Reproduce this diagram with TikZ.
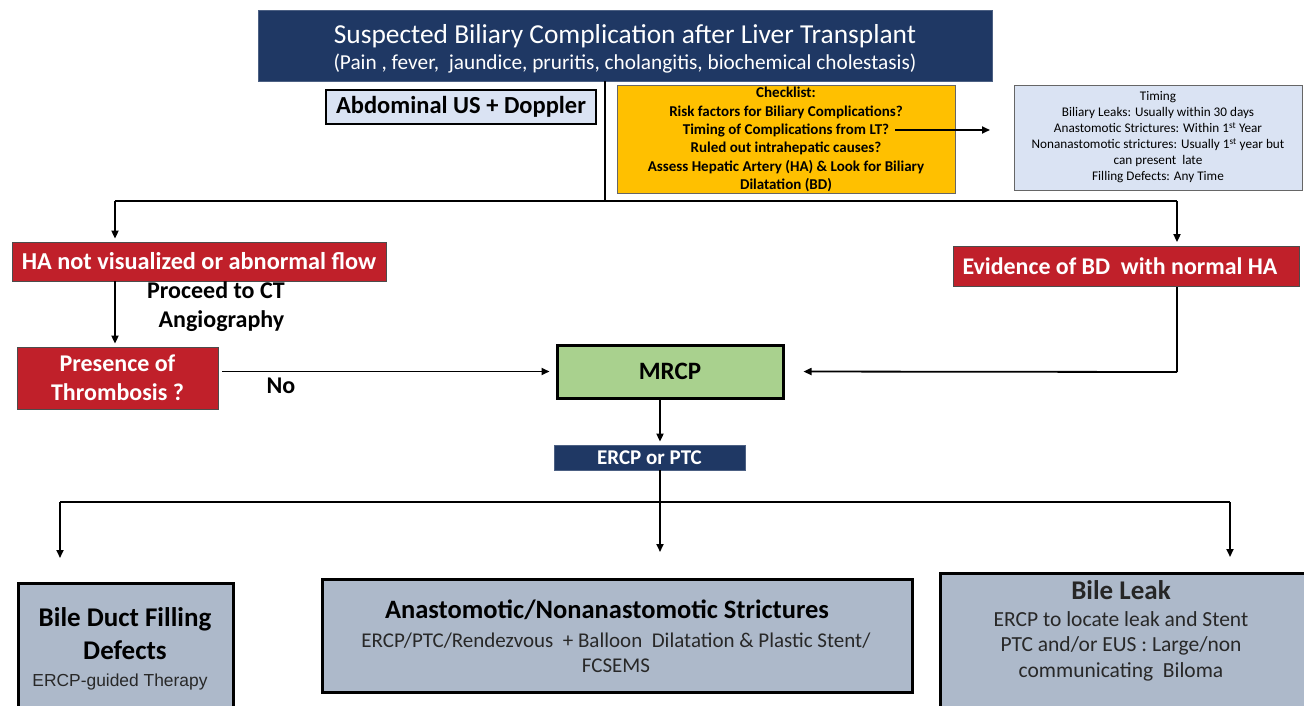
\documentclass[tikz,border=0pt]{standalone}
\usepackage{fontspec}
\setmainfont{Carlito}
\newfontfamily\arialf{Liberation Sans}
\usetikzlibrary{arrows.meta,calc}
\definecolor{navy}{RGB}{31,56,100}
\definecolor{bred}{RGB}{192,32,42}
\definecolor{chkyel}{RGB}{255,192,0}
\definecolor{lblue}{RGB}{218,227,243}
\definecolor{mgreen}{RGB}{169,209,142}
\definecolor{gblue}{RGB}{173,185,202}
\definecolor{bodytxt}{RGB}{40,40,40}
\tikzset{
  fs/.style n args={2}{font=\fontsize{#1}{#2}\selectfont},
  bfs/.style n args={2}{font=\bfseries\fontsize{#1}{#2}\selectfont},
  boxbase/.style={inner sep=0pt, align=center, anchor=center},
  navybox/.style={boxbase, fill=navy, draw=navy!80!white, line width=0.8pt, text=white},
  redbox/.style={boxbase, fill=bred, draw=black!70, line width=0.8pt, text=white},
  thickbox/.style={boxbase, draw=black, line width=2.6pt},
  conn/.style={draw=black, line width=1.8pt},
  arr/.style={conn, -{Triangle[length=8pt,width=7pt]}},
}
\begin{document}
\begin{tikzpicture}[x=1pt,y=-1pt]
\useasboundingbox[fill=white] (0,0) rectangle (1304,706);

% top title
\node[navybox, minimum width=734, minimum height=71] (title) at (625,45.5) {};
\node[boxbase, anchor=base, text=white, fs={27.4}{26}] (titletxt) at (625,70)
  {Suspected Biliary Complication after Liver Transplant\\
   {\fontsize{21.3}{26}\selectfont (Pain , fever,\ \ jaundice, pruritis, cholangitis, biochemical cholestasis)}};

% abdominal US
\node[boxbase, fill=lblue, draw=black, line width=2pt, minimum width=270, minimum height=34, bfs={24.5}{26}] (us) at (461,107) {Abdominal US + Doppler};

% checklist
\node[boxbase, fill=chkyel, draw=black!60, line width=0.8pt, minimum width=338, minimum height=108, bfs={15}{18.3}] (check) at (786,139.5)
  {Checklist:\\Risk factors for Biliary Complications?\\Timing of Complications from LT?\\Ruled out intrahepatic causes?\\Assess Hepatic Artery (HA) \& Look for Biliary\\Dilatation (BD)};

% timing
\node[boxbase, fill=lblue, draw=black!60, line width=0.8pt, minimum width=288, minimum height=105] (timing) at (1158,137.5) {};
\node[boxbase, fs={13.2}{16}] (timingtxt) at (1158,137.5)
  {Timing\\Biliary Leaks: Usually within 30 days\\Anastomotic Strictures: Within 1\textsuperscript{st} Year\\Nonanastomotic strictures: Usually 1\textsuperscript{st} year but\\can present\ \ late\\Filling Defects: Any Time};

\coordinate (tstart) at (895,130);
\coordinate (tend) at (990,130);
\draw[arr] (tstart) -- (tend);

% second row
\node[redbox, minimum width=374, minimum height=39, bfs={24.3}{26}] (ha) at (199,261.5) {HA not visualized or abnormal flow};
\node[redbox, minimum width=346, minimum height=40] (evid) at (1126,266.5) {};
\node[boxbase, text=white, bfs={23.9}{26}] (evidtxt) at (1120,266.5) {Evidence of BD\ \ with normal HA};

\node[boxbase, bfs={24}{29}] (proceed) at (216,307) {Proceed to CT\\\ \ Angiography};

\node[redbox, minimum width=201, minimum height=62, bfs={24}{29}] (pres) at (117.5,378) {Presence of\\Thrombosis ?};

\node[boxbase, fill=mgreen, draw=black, line width=3pt, minimum width=226, minimum height=53, bfs={25}{26}] (mrcp) at (670,371.5) {MRCP};

\node[boxbase, bfs={24}{26}] (no) at (281,386) {No};

\node[navybox, minimum width=191, minimum height=25, bfs={21}{22}] (ercp) at (649.5,457.5) {ERCP or PTC};

% bottom boxes
\node[thickbox, fill=gblue, minimum width=215, minimum height=140, anchor=north west] (fill) at (17,582) {};
\node[boxbase, anchor=base, bfs={27}{33}] (filltxt) at (125,659) {Bile Duct Filling\\Defects};
\node[boxbase, anchor=base, font=\arialf\fontsize{17.4}{20}\selectfont, text=bodytxt] (filltxt2) at (120,686) {ERCP-guided Therapy};

\node[thickbox, fill=gblue, minimum width=590, minimum height=113, anchor=north west] (strict) at (321,578) {};
\node[boxbase, anchor=base, bfs={26.5}{28}] (stricttxt) at (607,618.5) {Anastomotic/Nonanastomotic Strictures};
\node[boxbase, anchor=base, fs={21}{25}, text=bodytxt] (stricttxt2) at (616,672) {ERCP/PTC/Rendezvous\ \ + Balloon\ \ Dilatation \& Plastic Stent/\\FCSEMS};

\node[thickbox, fill=gblue, minimum width=370, minimum height=150, anchor=north west] (leak) at (939,572) {};
\node[boxbase, anchor=base, bfs={27}{28}, text=black!85] (leaktxt) at (1121,599) {Bile Leak};
\node[boxbase, anchor=base, fs={21.5}{25.5}, text=bodytxt] (leaktxt2) at (1121,677) {ERCP to locate leak and Stent\\PTC and/or EUS : Large/non\\communicating\ \ Biloma};

% connectors
\coordinate (split) at (605,201);
\coordinate (sl) at (115,201);
\coordinate (sr) at (1177,201);
\draw[conn] (title.south -| split) -- (split);
\draw[conn] (sl) -- (sr);
\draw[arr, shorten >=3pt] (sl) -- (ha.north -| sl);
\draw[arr, shorten >=4pt] (sr) -- (evid.north -| sr);

\draw[arr, shorten >=3pt] (ha.south -| sl) -- (pres.north -| sl);
\draw[arr, shorten <=4pt, shorten >=6pt] (pres.east |- mrcp.west) -- (mrcp.west);

\coordinate (rc) at (1177,372);
\draw[conn] (evid.south -| rc) -- (rc);
\draw[arr, shorten >=19pt] (rc) -- (mrcp.east);

\coordinate (mx) at (660,0);
\draw[arr, shorten >=3pt] (mrcp.south -| mx) -- (ercp.north -| mx);
\draw[arr] (ercp.south -| mx) -- ($(strict.north -| mx)+(0,-26)$);

\coordinate (bl) at (60,502);
\coordinate (br) at (1230,502);
\draw[conn] (bl) -- (br);
\draw[arr] (bl) -- ($(fill.north -| bl)+(0,-24)$);
\draw[arr] (br) -- ($(leak.north -| br)+(0,-15)$);
\end{tikzpicture}
\end{document}
